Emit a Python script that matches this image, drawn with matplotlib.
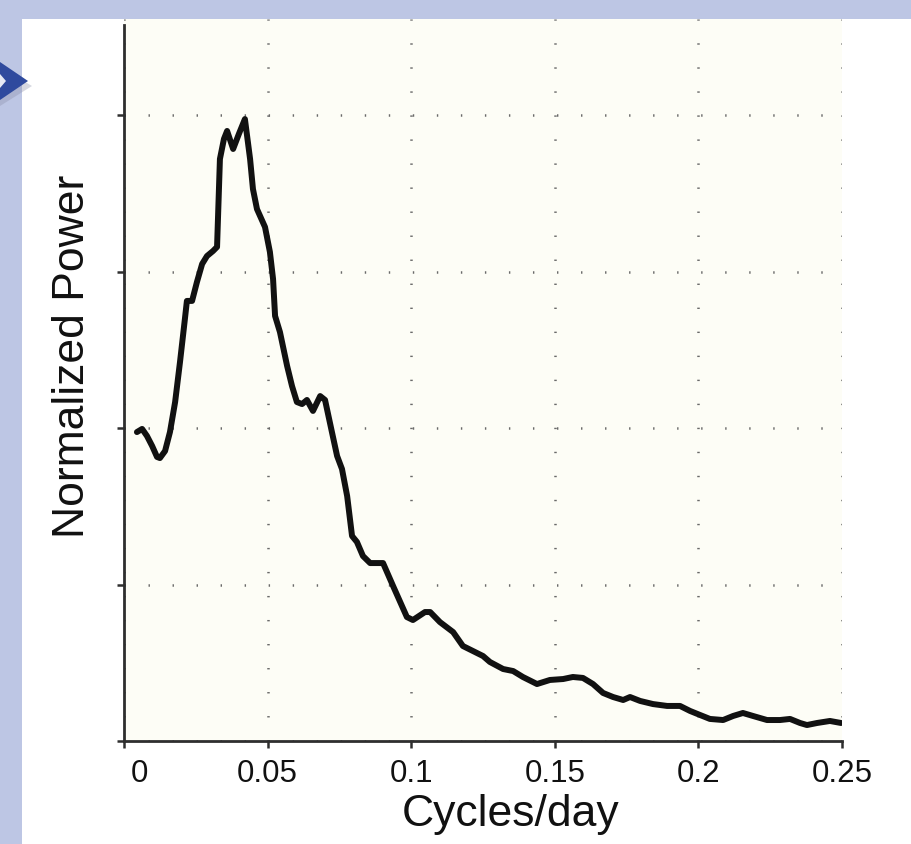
import numpy as np
import matplotlib
matplotlib.use("Agg")
import matplotlib.pyplot as plt
from matplotlib.patches import Rectangle, Polygon
from matplotlib.transforms import ScaledTranslation

plt.rcParams['font.family'] = ['Liberation Sans', 'DejaVu Sans']
plt.rcParams['lines.scale_dashes'] = False

# ---- data ----
freq = [0.0045, 0.0063, 0.0080, 0.0098, 0.0115, 0.0125, 0.0143, 0.0160, 0.0178, 0.0195,
        0.0212, 0.0219, 0.0237, 0.0254, 0.0272, 0.0289, 0.0310, 0.0324, 0.0334, 0.0348,
        0.0359, 0.0380, 0.0400, 0.0421, 0.0439, 0.0449, 0.0463, 0.0491, 0.0508, 0.0519,
        0.0526, 0.0543, 0.0568, 0.0585, 0.0602, 0.0620, 0.0637, 0.0658, 0.0683, 0.0700,
        0.0724, 0.0742, 0.0759, 0.0777, 0.0794, 0.0811, 0.0832, 0.0857, 0.0902, 0.0937,
        0.0985, 0.1006, 0.1048, 0.1066, 0.1100, 0.1146, 0.1180, 0.1215, 0.1250, 0.1274,
        0.1320, 0.1355, 0.1389, 0.1438, 0.1483, 0.1529, 0.1563, 0.1598, 0.1633, 0.1668,
        0.1703, 0.1738, 0.1762, 0.1797, 0.1842, 0.1891, 0.1936, 0.1971, 0.2006, 0.2040,
        0.2086, 0.2121, 0.2155, 0.2190, 0.2239, 0.2284, 0.2319, 0.2354, 0.2378, 0.2413,
        0.2458, 0.2497]
power = [1.974, 1.994, 1.949, 1.885, 1.815, 1.808, 1.853, 1.974, 2.166, 2.422,
         2.696, 2.812, 2.812, 2.933, 3.048, 3.099, 3.131, 3.157, 3.719, 3.847,
         3.898, 3.783, 3.879, 3.974, 3.719, 3.527, 3.399, 3.284, 3.125, 2.952,
         2.716, 2.613, 2.396, 2.268, 2.166, 2.153, 2.179, 2.109, 2.204, 2.179,
         1.974, 1.821, 1.738, 1.565, 1.310, 1.272, 1.182, 1.137, 1.137, 0.990,
         0.792, 0.773, 0.824, 0.824, 0.760, 0.696, 0.607, 0.575, 0.543, 0.505,
         0.460, 0.447, 0.409, 0.364, 0.390, 0.396, 0.409, 0.403, 0.364, 0.307,
         0.281, 0.262, 0.281, 0.256, 0.236, 0.224, 0.224, 0.192, 0.166, 0.141,
         0.134, 0.160, 0.179, 0.160, 0.134, 0.134, 0.141, 0.115, 0.102, 0.115,
         0.128, 0.115]

xticks = [0, 0.05, 0.1, 0.15, 0.2, 0.25]
xtick_labels = ['0', '0.05', '0.1', '0.15', '0.2', '0.25']
yticks = [0, 1, 2, 3, 4]

W, H = 912, 845
fig = plt.figure(figsize=(W / 100, H / 100), dpi=100, facecolor='#bdc6e4')

# white slide panel (behind the axes)
fig.patches.append(Rectangle((22 / W, 0), 1 - 22 / W, 1 - 20 / H, transform=fig.transFigure,
                             facecolor='white', edgecolor='none', zorder=-10))

ax = fig.add_axes([124 / W, (H - 742) / H, (842 - 124) / W, (742 - 20) / H])
ax.set_zorder(1)
ax.set_facecolor('#fdfdf6')
ax.plot(freq, power, color='#111111', lw=4.3, solid_joinstyle='round',
        solid_capstyle='round', zorder=3)

ax.set_xlim(0, 0.25)
ax.set_ylim(0, (742 - 20) / 156.5)
ax.set_xticks(xticks)
ax.set_xticklabels(xtick_labels, fontsize=22.5)
ax.set_yticks(yticks)
ax.set_yticklabels([])

ax.grid(True, color='#6a6a6a', lw=1.8, linestyle=(0, (1.0, 16.3)))
ax.set_axisbelow(True)

for s in ['top', 'right']:
    ax.spines[s].set_visible(False)
for s in ['left', 'bottom']:
    ax.spines[s].set_color('#2e2e2e')
    ax.spines[s].set_linewidth(2.0)
ax.spines['left'].set_bounds(0, (742 - 26) / 156.5)
ax.tick_params(direction='out', length=5, width=1.8, color='#2e2e2e', pad=7, labelcolor='#111111')

# first label sits a bit to the right of its tick
lbl0 = ax.get_xticklabels()[0]
lbl0.set_transform(lbl0.get_transform() + ScaledTranslation(15 / 100, 0, fig.dpi_scale_trans))

fig.text(511 / W, 1 - 815 / H, 'Cycles/day', fontsize=32, ha='center', va='center', color='#111111')
fig.text(73 / W, 1 - 356 / H, 'Normalized Power', fontsize=32, rotation=90,
         ha='center', va='center', color='#111111')

# blue arrow at top left
shadow = Polygon([(0, 1 - 68 / H), (32 / W, 1 - 87 / H), (0, 1 - 107 / H)], closed=True,
                 transform=fig.transFigure, facecolor='#8a8fa8', edgecolor='none', alpha=0.35, zorder=5)
arrow = Polygon([(0, 1 - 63 / H), (28 / W, 1 - 82 / H), (0, 1 - 101 / H)], closed=True,
                transform=fig.transFigure, facecolor='#2f4a9e', edgecolor='none', zorder=6)
inner = Polygon([(0, 1 - 75 / H), (6 / W, 1 - 82 / H), (0, 1 - 89 / H)], closed=True,
                transform=fig.transFigure, facecolor='#e6e9f4', edgecolor='none', zorder=7)
fig.patches.extend([shadow, arrow, inner])

fig.savefig('out.png', dpi=100, facecolor=fig.get_facecolor())
